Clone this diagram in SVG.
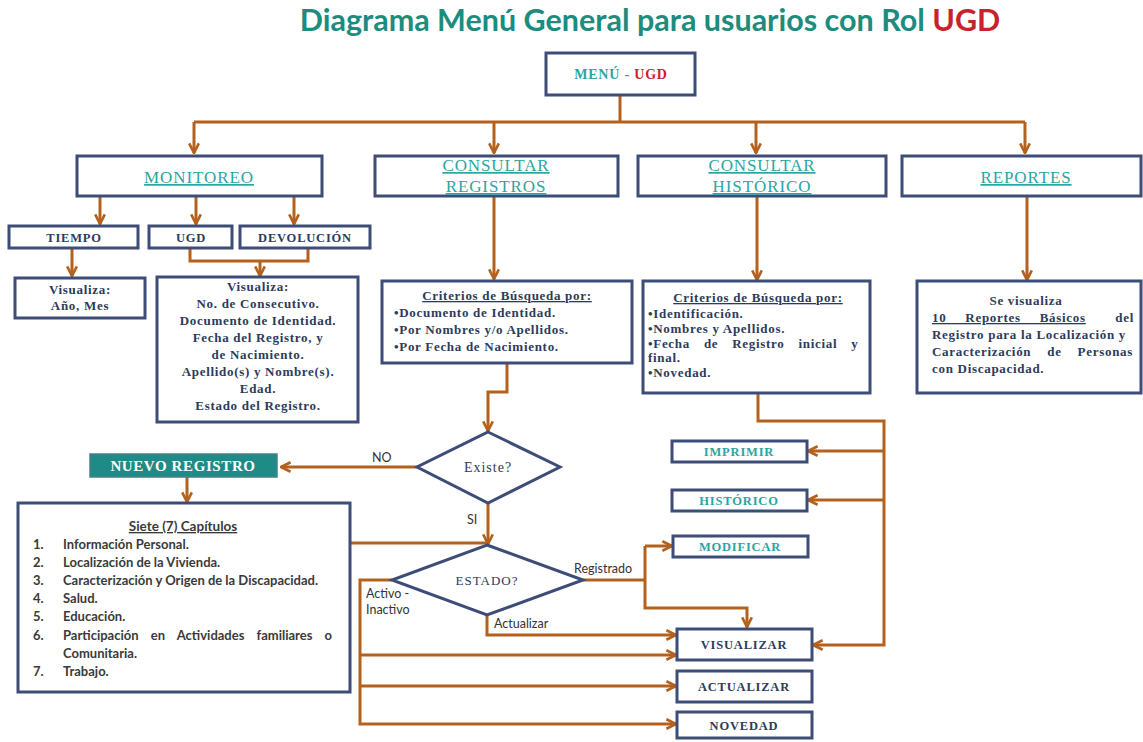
<svg xmlns="http://www.w3.org/2000/svg" width="1143" height="742" viewBox="0 0 1143 742">
<defs>
<style>
.box{fill:#ffffff;stroke:#3d4d78;stroke-width:3}
.con{fill:none;stroke:#b4611e;stroke-width:3}
.ttl{font-family:"Lato","Liberation Sans",sans-serif;font-weight:bold;fill:#1b8c7e}
.top{font-family:"Liberation Serif",serif;font-size:17px;fill:#2aa5a2;text-decoration:underline;text-anchor:middle;letter-spacing:0.9px}
.sv{font-family:"Liberation Serif",serif;font-weight:bold;font-size:13px;fill:#2d3b5c;letter-spacing:0.7px}
.svc{font-family:"Liberation Serif",serif;font-weight:bold;font-size:13px;fill:#2d3b5c;text-anchor:middle;letter-spacing:0.7px}
.lab{font-family:"Liberation Serif",serif;font-weight:bold;font-size:12.5px;fill:#2d3b5c;text-anchor:middle;letter-spacing:0.8px}
.labt{font-family:"Liberation Serif",serif;font-weight:bold;font-size:12.5px;fill:#2aa5a2;text-anchor:middle;letter-spacing:0.8px}
.sans{font-family:"Lato","Liberation Sans",sans-serif;font-size:12.5px;fill:#333333}
.list{font-family:"Lato","Liberation Sans",sans-serif;font-weight:bold;font-size:13px;fill:#3a3a3a}
</style>
<marker id="ah" viewBox="0 0 10 10" refX="9" refY="5" markerWidth="12" markerHeight="12" markerUnits="userSpaceOnUse" orient="auto">
<path d="M1,1 L9,5 L1,9" fill="none" stroke="#b4611e" stroke-width="2.2"/>
</marker>
</defs>
<rect width="1143" height="742" fill="#ffffff"/>
<text class="ttl" x="650" y="31" font-size="30.5" text-anchor="middle">Diagrama Menú General para usuarios con Rol <tspan fill="#c8232c">UGD</tspan></text>

<g id="connectors">
<path class="con" d="M620,95 V122"/>
<path class="con" d="M194,122 H1025"/>
<path class="con" d="M194,122 V153" marker-end="url(#ah)"/>
<path class="con" d="M494,122 V153" marker-end="url(#ah)"/>
<path class="con" d="M756,122 V153" marker-end="url(#ah)"/>
<path class="con" d="M1025,122 V153" marker-end="url(#ah)"/>
<path class="con" d="M100,197 V224" marker-end="url(#ah)"/>
<path class="con" d="M196,197 V224" marker-end="url(#ah)"/>
<path class="con" d="M294,197 V224" marker-end="url(#ah)"/>
<path class="con" d="M72,248 V276" marker-end="url(#ah)"/>
<path class="con" d="M190,248 V261 H308 V248"/>
<path class="con" d="M260,261 V276" marker-end="url(#ah)"/>
<path class="con" d="M494,197 V279" marker-end="url(#ah)"/>
<path class="con" d="M507,363 V392 H488 V431" marker-end="url(#ah)"/>
<path class="con" d="M417,467 H281" marker-end="url(#ah)"/>
<path class="con" d="M187,477 V502" marker-end="url(#ah)"/>
<path class="con" d="M488,503 V544" marker-end="url(#ah)"/>
<path class="con" d="M350,543 H487"/>
<path class="con" d="M392,580 H360 V724 H676" marker-end="url(#ah)"/>
<path class="con" d="M360,655 H676" marker-end="url(#ah)"/>
<path class="con" d="M360,686 H676" marker-end="url(#ah)"/>
<path class="con" d="M487,615 V635 H676" marker-end="url(#ah)"/>
<path class="con" d="M583,580 H645"/>
<path class="con" d="M645,546 V608 H747 V627" marker-end="url(#ah)"/>
<path class="con" d="M645,546 H672" marker-end="url(#ah)"/>
<path class="con" d="M757,197 V280" marker-end="url(#ah)"/>
<path class="con" d="M758,393 V421 H884 V645 H813" marker-end="url(#ah)"/>
<path class="con" d="M884,451 H808" marker-end="url(#ah)"/>
<path class="con" d="M884,500 H808" marker-end="url(#ah)"/>
<path class="con" d="M1027,197 V280" marker-end="url(#ah)"/>
</g>

<g id="menu">
<rect class="box" x="546" y="53" width="149" height="42"/>
<text class="lab" x="621" y="79" style="fill:#2aa5a2;font-size:14px">MENÚ - <tspan style="fill:#c8232c">UGD</tspan></text>
</g>

<g id="monitoreo">
<rect class="box" x="77" y="156" width="245" height="40"/>
<text class="top" x="199" y="183">MONITOREO</text>
</g>
<g id="consultar-registros">
<rect class="box" x="375" y="156" width="243" height="40"/>
<text class="top" x="496" y="171">CONSULTAR</text>
<text class="top" x="496" y="192">REGISTROS</text>
</g>
<g id="consultar-historico">
<rect class="box" x="638" y="156" width="248" height="40"/>
<text class="top" x="762" y="171">CONSULTAR</text>
<text class="top" x="762" y="192">HISTÓRICO</text>
</g>
<g id="reportes">
<rect class="box" x="902" y="156" width="239" height="40"/>
<text class="top" x="1026" y="183">REPORTES</text>
</g>

<g id="tiempo">
<rect class="box" x="9" y="226" width="129" height="22"/>
<text class="lab" x="74" y="242">TIEMPO</text>
</g>
<g id="ugd">
<rect class="box" x="149" y="226" width="83" height="22"/>
<text class="lab" x="191" y="242">UGD</text>
</g>
<g id="devolucion">
<rect class="box" x="240" y="226" width="130" height="22"/>
<text class="lab" x="305" y="242">DEVOLUCIÓN</text>
</g>

<g id="visualiza-tiempo">
<rect class="box" x="15" y="278" width="130" height="40"/>
<text class="svc" x="80" y="294">Visualiza:</text>
<text class="svc" x="80" y="310">Año, Mes</text>
</g>

<g id="visualiza-ugd">
<rect class="box" x="157" y="277" width="201" height="145"/>
<text class="svc" x="258" y="291">Visualiza:</text>
<text class="svc" x="258" y="308">No. de Consecutivo.</text>
<text class="svc" x="258" y="325">Documento de Identidad.</text>
<text class="svc" x="258" y="342">Fecha del Registro, y</text>
<text class="svc" x="258" y="359">de Nacimiento.</text>
<text class="svc" x="258" y="376">Apellido(s) y Nombre(s).</text>
<text class="svc" x="258" y="393">Edad.</text>
<text class="svc" x="258" y="410">Estado del Registro.</text>
</g>

<g id="criterios-registros">
<rect class="box" x="382" y="281" width="250" height="82"/>
<text class="svc" x="507" y="300" text-decoration="underline">Criterios de Búsqueda por:</text>
<text class="sv" x="394" y="317">•Documento de Identidad.</text>
<text class="sv" x="394" y="334">•Por Nombres y/o Apellidos.</text>
<text class="sv" x="394" y="351">•Por Fecha de Nacimiento.</text>
</g>

<g id="criterios-historico">
<rect class="box" x="643" y="281" width="227" height="112"/>
<text class="svc" x="758" y="302" text-decoration="underline">Criterios de Búsqueda por:</text>
<text class="sv" x="648" y="318">•Identificación.</text>
<text class="sv" x="648" y="333">•Nombres y Apellidos.</text>
<text class="sv" x="648" y="348" word-spacing="10">•Fecha de Registro inicial y</text>
<text class="sv" x="648" y="362">final.</text>
<text class="sv" x="648" y="377">•Novedad.</text>
</g>

<g id="reportes-detalle">
<rect class="box" x="917" y="281" width="224" height="112"/>
<text class="svc" x="1026" y="305">Se visualiza</text>
<text class="sv" x="932" y="322" word-spacing="15" text-decoration="underline">10 Reportes Básicos</text>
<text class="sv" x="1134" y="322" text-anchor="end">del</text>
<text class="sv" x="932" y="339">Registro para la Localización y</text>
<text class="sv" x="932" y="356" word-spacing="12">Caracterización de Personas</text>
<text class="sv" x="932" y="373">con Discapacidad.</text>
</g>

<g id="existe">
<polygon class="box" points="488,432 560,467 488,503 417,467"/>
<text class="svc" x="488" y="472" style="font-weight:normal;font-size:14px;letter-spacing:1px">Existe?</text>
</g>

<g id="nuevo-registro">
<rect x="90" y="454" width="187" height="23" fill="#1e8b87" stroke="#4a7f8c" stroke-width="1.5"/>
<text x="183" y="471" font-family="Liberation Serif, serif" font-weight="bold" font-size="15" fill="#ffffff" text-anchor="middle" letter-spacing="0.6">NUEVO REGISTRO</text>
</g>

<g id="siete-capitulos">
<rect class="box" x="18" y="503" width="332" height="189"/>
<text class="list" x="183" y="531" text-anchor="middle" text-decoration="underline" style="font-size:13.5px">Siete (7) Capítulos</text>
<text class="list" x="33" y="549">1.</text><text class="list" x="63" y="549">Información Personal.</text>
<text class="list" x="33" y="567">2.</text><text class="list" x="63" y="567">Localización  de la Vivienda.</text>
<text class="list" x="33" y="585">3.</text><text class="list" x="63" y="585">Caracterización  y Origen de la Discapacidad.</text>
<text class="list" x="33" y="603">4.</text><text class="list" x="63" y="603">Salud.</text>
<text class="list" x="33" y="621">5.</text><text class="list" x="63" y="621">Educación.</text>
<text class="list" x="33" y="640">6.</text><text class="list" x="63" y="640" word-spacing="9">Participación en Actividades familiares o</text>
<text class="list" x="63" y="658">Comunitaria.</text>
<text class="list" x="33" y="676">7.</text><text class="list" x="63" y="676">Trabajo.</text>
</g>

<g id="estado">
<polygon class="box" points="487,545 583,580 487,615 392,580"/>
<text class="svc" x="487" y="585" style="font-weight:normal;font-size:13px;letter-spacing:1px">ESTADO?</text>
</g>

<g id="labels">
<text class="sans" x="372" y="462">NO</text>
<text class="sans" x="467" y="524">SI</text>
<text class="sans" x="574" y="573">Registrado</text>
<text class="sans" x="366" y="598">Activo -</text>
<text class="sans" x="366" y="614">Inactivo</text>
<text class="sans" x="494" y="628">Actualizar</text>
</g>

<g id="imprimir">
<rect class="box" x="672" y="441" width="135" height="21"/>
<text class="labt" x="739" y="456">IMPRIMIR</text>
</g>
<g id="historico">
<rect class="box" x="672" y="490" width="135" height="21"/>
<text class="labt" x="739" y="505">HISTÓRICO</text>
</g>
<g id="modificar">
<rect class="box" x="673" y="536" width="135" height="21"/>
<text class="labt" x="740" y="551">MODIFICAR</text>
</g>
<g id="visualizar">
<rect class="box" x="677" y="629" width="135" height="31"/>
<text class="lab" x="744" y="649">VISUALIZAR</text>
</g>
<g id="actualizar">
<rect class="box" x="677" y="671" width="135" height="31"/>
<text class="lab" x="744" y="691">ACTUALIZAR</text>
</g>
<g id="novedad">
<rect class="box" x="677" y="712" width="135" height="26"/>
<text class="lab" x="744" y="730">NOVEDAD</text>
</g>
</svg>
